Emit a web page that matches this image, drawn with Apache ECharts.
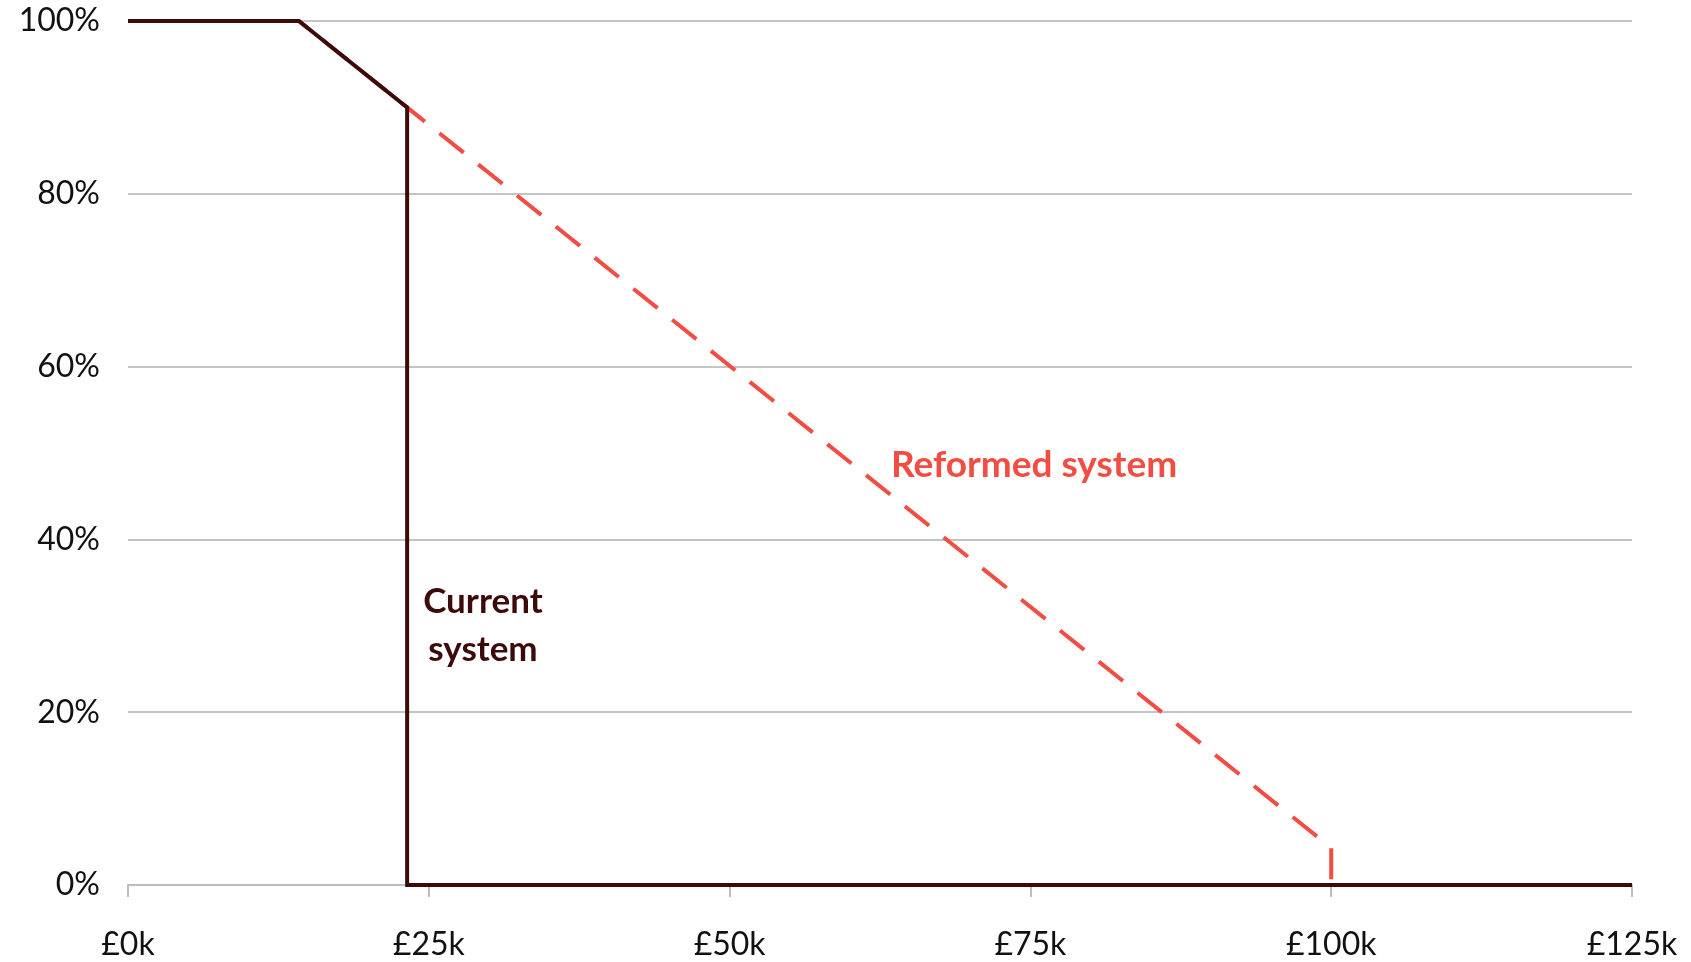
<!DOCTYPE html>
<html>
<head>
<meta charset="utf-8">
<title>Withdrawal rate by income</title>
<script src="https://cdn.jsdelivr.net/npm/echarts@6/dist/echarts.min.js"></script>
<style>
  html, body { margin: 0; padding: 0; background: #ffffff; }
  #chart { width: 1691px; height: 962px; }
</style>
</head>
<body>
<div id="chart"></div>
<script>
// Income in £ thousands, rate in percent
const currentIncome = [0, 14.2, 23.2, 23.2, 125];
const currentRate   = [100, 100, 90, 0, 0];

const reformedIncome = [0, 14.2, 23.2, 100, 100, 125];
const reformedRate   = [100, 100, 90, 4.3, 0, 0];

const xTicks = [0, 25, 50, 75, 100, 125];
const yTicks = [0, 20, 40, 60, 80, 100];

const labelCurrent  = { text: 'Current\nsystem', x: 29.5, y: 30.0 };
const labelReformed = { text: 'Reformed system', x: 75.3, y: 48.6 };

const DARK = '#3d0a0a';
const RED = '#f24d42';
const FONT = 'Lato, "Open Sans", sans-serif';

const pairs = (xs, ys) => xs.map((x, i) => [x, ys[i]]);

const chart = echarts.init(document.getElementById('chart'), null, { renderer: 'canvas' });

chart.setOption({
  animation: false,
  backgroundColor: '#ffffff',
  grid: { left: 128, right: 59, top: 21, bottom: 77, containLabel: false },
  xAxis: {
    type: 'value',
    min: xTicks[0],
    max: xTicks[xTicks.length - 1],
    interval: xTicks[1] - xTicks[0],
    axisLine: { show: true, lineStyle: { color: '#bdbdbd', width: 2 } },
    axisTick: { show: true, length: 12, lineStyle: { color: '#bdbdbd', width: 2 } },
    splitLine: { show: false },
    axisLabel: {
      formatter: v => '£' + v + 'k',
      color: '#111111',
      fontFamily: FONT,
      fontSize: 32,
      margin: 44
    }
  },
  yAxis: {
    type: 'value',
    min: yTicks[0],
    max: yTicks[yTicks.length - 1],
    interval: yTicks[1] - yTicks[0],
    axisLine: { show: false },
    axisTick: { show: false },
    splitLine: { show: true, lineStyle: { color: '#c4c4c4', width: 2 } },
    axisLabel: {
      formatter: v => v + '%',
      color: '#111111',
      fontFamily: FONT,
      fontSize: 32,
      margin: 28
    }
  },
  series: [
    {
      name: 'Reformed system',
      type: 'line',
      data: pairs(reformedIncome, reformedRate),
      symbol: 'none',
      z: 2,
      lineStyle: { color: RED, width: 4, type: [31, 18.7], dashOffset: 46.8, cap: 'butt', join: 'miter' }
    },
    {
      name: 'Current system',
      type: 'line',
      data: pairs(currentIncome, currentRate),
      symbol: 'none',
      z: 3,
      lineStyle: { color: DARK, width: 4, join: 'miter' }
    }
  ]
});

// Series annotations, anchored in data coordinates
const pc = chart.convertToPixel({ gridIndex: 0 }, [labelCurrent.x, labelCurrent.y]);
const pr = chart.convertToPixel({ gridIndex: 0 }, [labelReformed.x, labelReformed.y]);

chart.setOption({
  graphic: [
    {
      type: 'text',
      x: pc[0], y: pc[1], z: 10,
      style: {
        text: labelCurrent.text,
        fill: DARK,
        font: 'bold 35px ' + FONT,
        align: 'center',
        verticalAlign: 'middle',
        lineHeight: 48
      }
    },
    {
      type: 'text',
      x: pr[0], y: pr[1], z: 10,
      style: {
        text: labelReformed.text,
        fill: RED,
        font: 'bold 37px ' + FONT,
        align: 'center',
        verticalAlign: 'middle'
      }
    }
  ]
});
</script>
</body>
</html>
